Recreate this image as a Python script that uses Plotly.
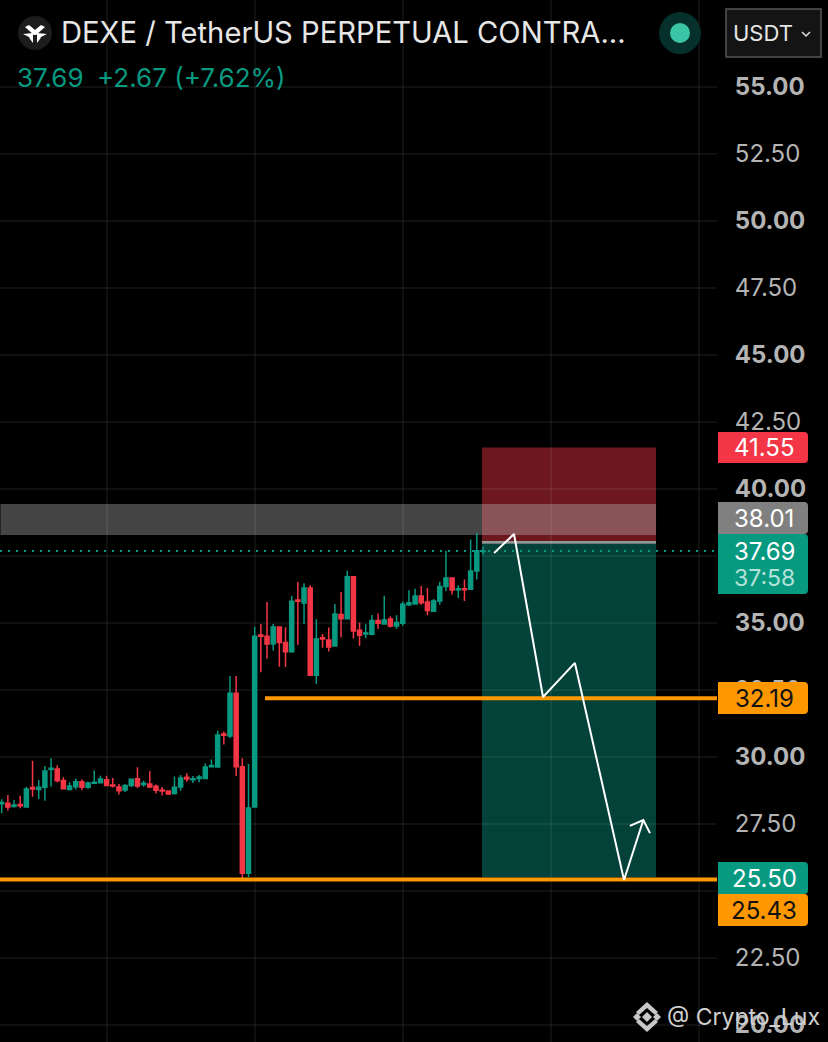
import plotly.graph_objects as go

# Canvas and price scale calibration
WIDTH = 828
HEIGHT = 1042
PLOT_RIGHT = 717
BG = "#000000"
GREEN = "#089981"
RED = "#f23645"
ORANGE = "#ff9800"
GRID = "rgba(255,255,255,0.06)"

# Candles, oldest first
opens = [28.26, 28.27, 28.15, 28.23, 28.13, 28.86, 28.79, 28.87, 29.53, 29.55,
         29.12, 28.79, 28.89, 29.08, 28.87, 29.02, 29.04, 29.15, 28.96, 28.88,
         28.77, 28.94, 29.19, 28.97, 28.99, 28.91, 28.77, 28.73, 28.64, 28.88,
         29.24, 29.15, 29.20, 29.20, 29.64, 29.63, 30.86, 30.78, 32.38, 29.64,
         25.66, 28.13, 34.55, 34.51, 34.22, 34.85, 34.27, 33.93, 35.86, 35.75,
         36.31, 33.05, 34.45, 34.37, 34.14, 35.32, 35.16, 36.73, 34.73, 34.59,
         34.58, 35.09, 34.96, 35.15, 34.89, 34.99, 35.68, 35.71, 36.01, 35.78,
         35.44, 35.82, 36.36, 36.68, 36.24, 36.28, 36.26, 36.94, 37.67]
highs = [28.42, 28.58, 28.40, 28.55, 28.89, 29.86, 29.14, 29.66, 29.95, 29.69,
         29.24, 29.06, 29.20, 29.17, 29.08, 29.50, 29.30, 29.30, 29.22, 28.99,
         28.98, 29.20, 29.62, 29.11, 29.48, 28.97, 28.88, 28.76, 29.27, 29.33,
         29.39, 29.29, 29.33, 29.76, 29.91, 30.98, 30.95, 33.02, 33.02, 29.95,
         29.74, 34.86, 34.96, 35.78, 34.96, 34.88, 34.84, 36.01, 36.53, 36.48,
         36.41, 35.14, 34.59, 34.83, 35.71, 36.16, 36.95, 36.74, 35.02, 34.95,
         35.30, 35.35, 36.02, 35.25, 35.29, 35.80, 36.22, 36.28, 36.38, 36.31,
         35.90, 36.54, 37.70, 36.70, 36.41, 36.62, 38.12, 38.37, 37.85]
lows = [27.90, 28.00, 28.12, 28.09, 28.11, 28.52, 28.43, 28.37, 28.89, 29.06,
        28.82, 28.79, 28.79, 28.77, 28.82, 29.01, 29.02, 28.92, 28.86, 28.60,
        28.69, 28.88, 28.84, 28.89, 28.84, 28.64, 28.56, 28.58, 28.60, 28.74,
        29.08, 29.03, 29.06, 29.19, 29.62, 29.62, 30.47, 30.71, 29.29, 25.39,
        25.51, 28.13, 33.16, 33.67, 33.97, 33.37, 33.36, 33.93, 34.19, 34.96,
        33.05, 32.72, 34.08, 33.94, 34.14, 34.47, 35.16, 34.42, 34.14, 34.43,
        34.54, 34.78, 34.95, 34.83, 34.79, 34.90, 35.63, 35.68, 35.68, 35.29,
        35.44, 35.68, 36.19, 36.06, 35.93, 35.82, 36.24, 36.62, 37.54]
closes = [28.30, 28.13, 28.21, 28.18, 28.81, 28.81, 28.87, 29.48, 29.58, 29.11,
          28.82, 28.92, 29.08, 28.87, 29.03, 29.06, 29.18, 28.94, 28.92, 28.74,
          28.94, 29.17, 28.92, 29.02, 28.88, 28.76, 28.73, 28.62, 28.87, 29.22,
          29.18, 29.19, 29.25, 29.63, 29.68, 30.82, 30.81, 32.38, 29.64, 25.66,
          28.10, 34.51, 34.51, 34.22, 34.85, 34.27, 33.93, 35.81, 35.81, 36.31,
          33.05, 34.40, 34.40, 34.10, 35.34, 35.16, 36.73, 34.70, 34.54, 34.63,
          35.09, 34.99, 35.11, 34.89, 35.02, 35.70, 35.76, 36.01, 35.76, 35.47,
          35.82, 36.36, 36.68, 36.23, 36.28, 36.24, 36.94, 37.70, 37.69]

# Price axis
y_range = [19.366, 58.246]
price_ticks = [20.0, 22.5, 25.0, 27.5, 30.0, 32.5, 35.0, 37.5, 40.0, 42.5, 45.0, 47.5, 50.0, 52.5, 55.0]
price_tick_labels = ["<b>20.00</b>", "22.50", "<b>25.00</b>", "27.50", "<b>30.00</b>", "32.50",
                     "<b>35.00</b>", "", "<b>40.00</b>", "42.50", "<b>45.00</b>", "47.50",
                     "<b>50.00</b>", "52.50", "<b>55.00</b>"]

# Time axis in bar numbers, one gridline per 24 bars
x_range = [-0.2755, 115.93]
time_grid = [17, 41, 65, 89, 113]

# Drawings on the chart
last_price = 37.69
stop_price = 41.55
entry_price = 38.01
target_price = 25.50
position_bars = [77.84, 106.05]
zone_bars = [-0.2, 106.05]
zone_prices = [38.28, 39.44]
support_prices = [25.43, 32.19]
support_start_bars = [-0.2755, 42.67]

path_bars = [79.8, 83.03, 87.73, 92.9, 100.86, 103.99]
path_prices = [37.61, 38.32, 32.24, 33.51, 25.41, 27.65]
head_bars = [101.8, 103.99, 105.07]
head_prices = [27.43, 27.65, 27.16]


def pts_x(px):
    return px / WIDTH


def pts_y(py):
    return 1 - py / HEIGHT


def px_path(points, close=True):
    """SVG path in paper coordinates from a list of pixel points."""
    parts = [f"{'M' if i == 0 else 'L'}{pts_x(x):.5f},{pts_y(y):.5f}" for i, (x, y) in enumerate(points)]
    return " ".join(parts) + (" Z" if close else "")


def rounded_path(x0, y0, x1, y1, r=4):
    """Box with rounded right corners, in paper coordinates."""
    return (
        f"M{pts_x(x0):.5f},{pts_y(y0):.5f} L{pts_x(x1 - r):.5f},{pts_y(y0):.5f} "
        f"Q{pts_x(x1):.5f},{pts_y(y0):.5f} {pts_x(x1):.5f},{pts_y(y0 + r):.5f} "
        f"L{pts_x(x1):.5f},{pts_y(y1 - r):.5f} "
        f"Q{pts_x(x1):.5f},{pts_y(y1):.5f} {pts_x(x1 - r):.5f},{pts_y(y1):.5f} "
        f"L{pts_x(x0):.5f},{pts_y(y1):.5f} Z"
    )


def price_box(x_pair, price_pair, fill):
    return dict(type="rect", xref="x", yref="y", x0=x_pair[0], x1=x_pair[1],
                y0=price_pair[0], y1=price_pair[1], fillcolor=fill,
                line=dict(width=0), layer="below")


def filled(points, color):
    return dict(type="path", xref="paper", yref="paper", path=px_path(points),
                fillcolor=color, line=dict(width=0), layer="above")


def text_at(px, py, text, size, color, anchor="left", family="Inter"):
    return dict(xref="paper", yref="paper", x=pts_x(px), y=pts_y(py), text=text, showarrow=False,
                xanchor=anchor, yanchor="middle", font=dict(family=family, size=size, color=color))


fig = go.Figure()

fig.add_trace(go.Candlestick(
    x=list(range(len(opens))),
    open=opens, high=highs, low=lows, close=closes,
    increasing=dict(line=dict(color=GREEN, width=1.5), fillcolor=GREEN),
    decreasing=dict(line=dict(color=RED, width=1.5), fillcolor=RED),
    whiskerwidth=0,
    showlegend=False,
))

# Orange support lines
for price, start in zip(support_prices, support_start_bars):
    fig.add_trace(go.Scatter(
        x=[start, x_range[1]], y=[price, price], mode="lines",
        line=dict(color=ORANGE, width=4), showlegend=False, hoverinfo="skip",
    ))

# Last price dotted line
fig.add_trace(go.Scatter(
    x=x_range, y=[last_price, last_price], mode="lines",
    line=dict(color=GREEN, width=2, dash="2px 6px"), showlegend=False, hoverinfo="skip",
))

# Hand drawn projection
fig.add_trace(go.Scatter(
    x=path_bars, y=path_prices, mode="lines",
    line=dict(color="#ffffff", width=2), showlegend=False, hoverinfo="skip",
))
fig.add_trace(go.Scatter(
    x=head_bars, y=head_prices, mode="lines",
    line=dict(color="#ffffff", width=2), showlegend=False, hoverinfo="skip",
))

shapes = [
    price_box(position_bars, [entry_price + 0.05, stop_price], "rgba(242,54,69,0.45)"),
    price_box(position_bars, [target_price, entry_price - 0.05], "rgba(8,153,129,0.43)"),
    price_box(position_bars, [entry_price - 0.05, entry_price + 0.05], "#8f9a98"),
    price_box(zone_bars, zone_prices, "rgba(189,189,189,0.36)"),
]

# Price tags on the axis
tags = [
    (432, 463, RED),
    (502, 534, "#808080"),
    (534, 594, GREEN),
    (682, 714, ORANGE),
    (862, 894, GREEN),
    (894, 926, ORANGE),
]
for top, bottom, color in tags:
    shapes.append(dict(type="path", xref="paper", yref="paper", path=rounded_path(718, top, 808, bottom),
                       fillcolor=color, line=dict(width=0), layer="above"))

# Header badges
shapes += [
    dict(type="circle", xref="paper", yref="paper", x0=pts_x(18), x1=pts_x(52), y0=pts_y(50), y1=pts_y(16),
         fillcolor="#1c1c1c", line=dict(width=0), layer="above"),
    filled([(25, 27), (29, 25), (35, 30), (41, 25), (45, 27), (36, 35), (34, 35)], "#ffffff"),
    filled([(23, 34), (33, 33), (33, 43), (30, 39), (29, 37)], "#ffffff"),
    filled([(47, 34), (37, 33), (37, 43), (40, 39), (41, 37)], "#ffffff"),
    dict(type="circle", xref="paper", yref="paper", x0=pts_x(659), x1=pts_x(701), y0=pts_y(54), y1=pts_y(12),
         fillcolor="#06302b", line=dict(width=0), layer="above"),
    dict(type="circle", xref="paper", yref="paper", x0=pts_x(670), x1=pts_x(690), y0=pts_y(43), y1=pts_y(23),
         fillcolor="#3cc4a6", line=dict(width=0), layer="above"),
    dict(type="rect", xref="paper", yref="paper", x0=pts_x(726), x1=pts_x(821), y0=pts_y(57), y1=pts_y(9),
         fillcolor="#141414", line=dict(color="#555555", width=1.5), layer="above"),
    dict(type="path", xref="paper", yref="paper", path=px_path([(802, 32), (806, 36), (810, 32)], close=False),
         line=dict(color="#e0e0e0", width=1.5), layer="above"),
]

# Watermark diamond
mark = "#c8c8c8"
shapes += [
    filled([(647, 1012), (652, 1017), (647, 1022), (642, 1017)], mark),
    filled([(633, 1017), (637, 1013), (641, 1017), (637, 1021)], mark),
    filled([(653, 1017), (657, 1013), (661, 1017), (657, 1021)], mark),
    filled([(647, 1002), (658, 1012), (655, 1015), (647, 1008), (639, 1015), (636, 1012)], mark),
    filled([(647, 1032), (658, 1022), (655, 1019), (647, 1026), (639, 1019), (636, 1022)], mark),
]

annotations = [
    text_at(59, 33, "DEXE / TetherUS PERPETUAL CONTRA...", 29.2, "#e6e6e6"),
    text_at(15, 78, "37.69", 26, GREEN),
    text_at(95, 78, "+2.67 (+7.62%)", 26, GREEN),
    text_at(731, 33, "USDT", 22, "#e6e6e6"),
    text_at(764, 448, "41.55", 24, "#ffffff", "center"),
    text_at(764, 518, "38.01", 24, "#ffffff", "center"),
    text_at(764, 551, "37.69", 24, "#ffffff", "center"),
    text_at(764, 578, "37:58", 23, "#b5e2d9", "center"),
    text_at(764, 698, "32.19", 24, "#111111", "center"),
    text_at(764, 878, "25.50", 24, "#ffffff", "center"),
    text_at(764, 910, "25.43", 24, "#111111", "center"),
    text_at(665, 1017, "@ Crypto_Lux", 23, "#d0d0d0"),
]

fig.update_layout(
    width=WIDTH,
    height=HEIGHT,
    margin=dict(l=0, r=0, t=0, b=0),
    paper_bgcolor=BG,
    plot_bgcolor=BG,
    boxgap=0.35,
    boxgroupgap=0,
    showlegend=False,
    shapes=shapes,
    annotations=annotations,
    xaxis=dict(
        domain=[0, PLOT_RIGHT / WIDTH],
        range=x_range,
        rangeslider=dict(visible=False),
        tickvals=time_grid,
        showticklabels=False,
        ticks="",
        showgrid=True,
        gridcolor=GRID,
        gridwidth=1.5,
        zeroline=False,
        showline=False,
    ),
    yaxis=dict(
        side="right",
        range=y_range,
        tickvals=price_ticks,
        ticktext=price_tick_labels,
        tickfont=dict(family="Inter", size=24, color="#b4b4b4"),
        ticks="outside",
        ticklen=12,
        tickcolor=BG,
        showgrid=True,
        gridcolor=GRID,
        gridwidth=1.5,
        zeroline=False,
        showline=False,
    ),
)

# Page body margin would shift the picture by 8px
fig.write_html(
    "out.html",
    config={"displayModeBar": False},
    post_script="document.body.style.margin='0';document.body.style.background='#000';",
)
